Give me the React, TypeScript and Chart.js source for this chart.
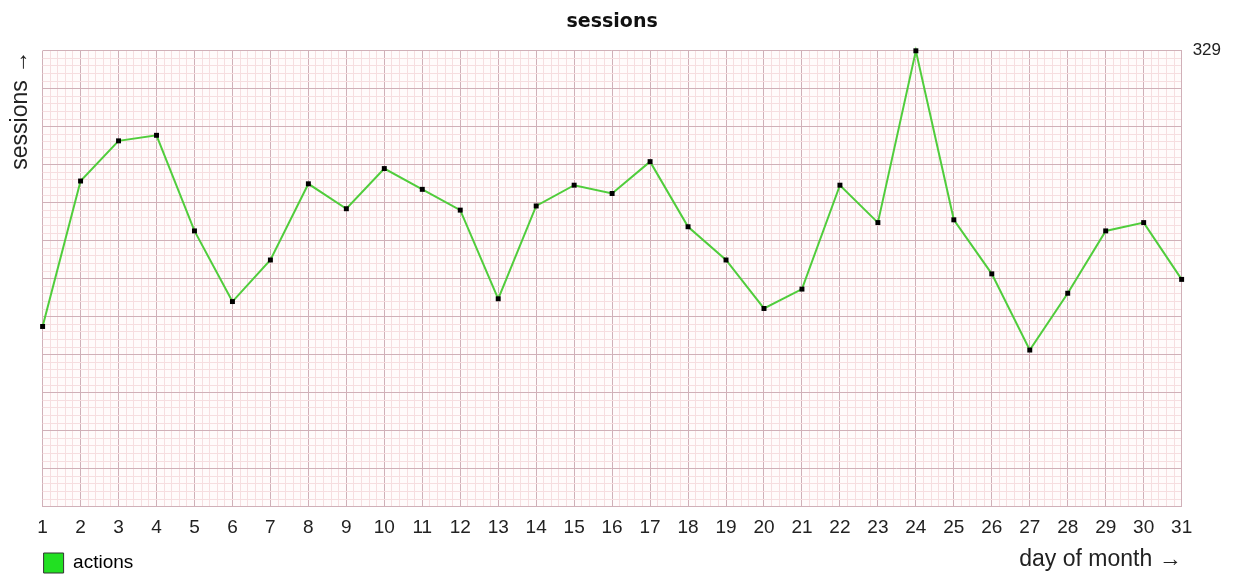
import React, { useEffect, useRef } from 'react';
import { Chart, registerables } from 'chart.js';

Chart.register(...registerables);

const DAYS = [1, 2, 3, 4, 5, 6, 7, 8, 9, 10, 11, 12, 13, 14, 15, 16, 17, 18, 19, 20, 21, 22, 23, 24, 25, 26, 27, 28, 29, 30, 31];
const ACTIONS = [130, 235, 264, 268, 199, 148, 178, 233, 215, 244, 229, 214, 150, 217, 232, 226, 249, 202, 178, 143, 157, 232, 205, 329, 207, 168, 113, 154, 199, 205, 164];
const Y_MAX = 329;
const Y_MAX_LABEL = '329';
const CHART_TITLE = 'sessions';
const Y_TITLE = 'sessions →';
const X_TITLE = 'day of month →';
const SERIES_NAME = 'actions';

const SUB = 5; // minor subdivisions per major cell
const Y_MAJOR_CELLS = 12;

const MAJOR_COLOR = 'rgb(208,176,184)';
const MINOR_COLOR = 'rgb(246,222,224)';
const LINE_COLOR = 'rgb(80,205,60)';
const FONT = "'Liberation Sans', Arial, sans-serif";

const plotBackground = {
  id: 'plotBackground',
  beforeDraw(chart: any) {
    const { ctx, chartArea } = chart;
    ctx.save();
    ctx.fillStyle = 'rgb(255,251,251)';
    ctx.fillRect(chartArea.left, chartArea.top, chartArea.right - chartArea.left, chartArea.bottom - chartArea.top);
    ctx.restore();
  },
};

export default function App() {
  const ref = useRef<HTMLCanvasElement | null>(null);

  useEffect(() => {
    if (!ref.current) return;
    const points = DAYS.map((d, i) => ({ x: d, y: ACTIONS[i] }));
    const xMin = DAYS[0];
    const xMax = DAYS[DAYS.length - 1];

    const chart = new Chart(ref.current, {
      type: 'line',
      data: {
        datasets: [
          {
            label: SERIES_NAME,
            data: points,
            borderColor: LINE_COLOR,
            borderWidth: 2,
            backgroundColor: '#000',
            pointStyle: 'rect',
            pointRadius: 3.5,
            pointBorderWidth: 0,
            pointBackgroundColor: '#000',
            tension: 0,
            clip: false,
            yAxisID: 'y',
            xAxisID: 'x',
          },
        ],
      },
      plugins: [plotBackground],
      options: {
        responsive: false,
        animation: false,
        events: [],
        layout: { padding: { left: 0, right: 2, top: 0, bottom: -8 } },
        plugins: {
          title: {
            display: true,
            text: CHART_TITLE,
            fullSize: false,
            color: '#111',
            font: { family: "'DejaVu Sans', Verdana, sans-serif", weight: 'bold', size: 19 },
            padding: { top: 11, bottom: 17 },
          },
          legend: {
            display: true,
            position: 'bottom',
            align: 'start',
            fullSize: false,
            labels: {
              boxWidth: 20,
              boxHeight: 20,
              padding: 1,
              color: '#222',
              font: { family: FONT, size: 19 },
              generateLabels: () => [
                {
                  text: SERIES_NAME,
                  fillStyle: '#22e022',
                  strokeStyle: '#333',
                  lineWidth: 1,
                  hidden: false,
                  datasetIndex: 0,
                },
              ],
            },
          },
          tooltip: { enabled: false },
        },
        scales: {
          x: {
            type: 'linear',
            position: 'bottom',
            min: xMin,
            max: xMax,
            afterBuildTicks: (scale: any) => {
              const ticks: { value: number }[] = [];
              const n = (xMax - xMin) * SUB;
              for (let i = 0; i <= n; i++) ticks.push({ value: xMin + i / SUB });
              scale.ticks = ticks;
            },
            grid: {
              display: true,
              drawTicks: false,
              lineWidth: 1,
              color: (ctx: any) => (ctx.index % SUB === 0 ? MAJOR_COLOR : MINOR_COLOR),
            },
            border: { display: true, color: MAJOR_COLOR },
            ticks: {
              autoSkip: false,
              maxRotation: 0,
              minRotation: 0,
              padding: 10,
              color: '#222',
              font: { family: FONT, size: 19 },
              callback: (_v: any, i: number) => (i % SUB === 0 ? String(DAYS[i / SUB]) : ''),
            },
            title: {
              display: true,
              text: X_TITLE,
              align: 'end',
              color: '#222',
              font: { family: FONT, size: 23 },
              padding: { top: -4, bottom: -21 },
            },
          },
          y: {
            type: 'linear',
            position: 'right',
            min: 0,
            max: Y_MAX,
            afterBuildTicks: (scale: any) => {
              const ticks: { value: number }[] = [];
              const n = Y_MAJOR_CELLS * SUB;
              for (let i = 0; i <= n; i++) ticks.push({ value: (Y_MAX * i) / n });
              scale.ticks = ticks;
            },
            grid: {
              display: true,
              drawTicks: false,
              lineWidth: 1,
              color: (ctx: any) => (ctx.index % SUB === 0 ? MAJOR_COLOR : MINOR_COLOR),
            },
            border: { display: true, color: MAJOR_COLOR },
            ticks: {
              autoSkip: false,
              padding: 11,
              color: '#222',
              font: { family: FONT, size: 17 },
              callback: (_v: any, i: number) => (i === Y_MAJOR_CELLS * SUB ? Y_MAX_LABEL : ''),
            },
          },
          yl: {
            type: 'linear',
            axis: 'y',
            position: 'left',
            display: true,
            grid: { display: false, drawTicks: false },
            border: { display: false },
            ticks: { display: false },
            title: {
              display: true,
              text: Y_TITLE,
              align: 'end',
              color: '#222',
              font: { family: FONT, size: 23 },
              padding: { top: 7, bottom: 8 },
            },
          },
        },
      },
    });
    return () => chart.destroy();
  }, []);

  return (
    <div style={{ position: 'absolute', left: 0, top: 0, width: 1234, height: 575, background: '#fff' }}>
      <canvas ref={ref} width={1234} height={575} style={{ display: 'block' }} />
    </div>
  );
}
